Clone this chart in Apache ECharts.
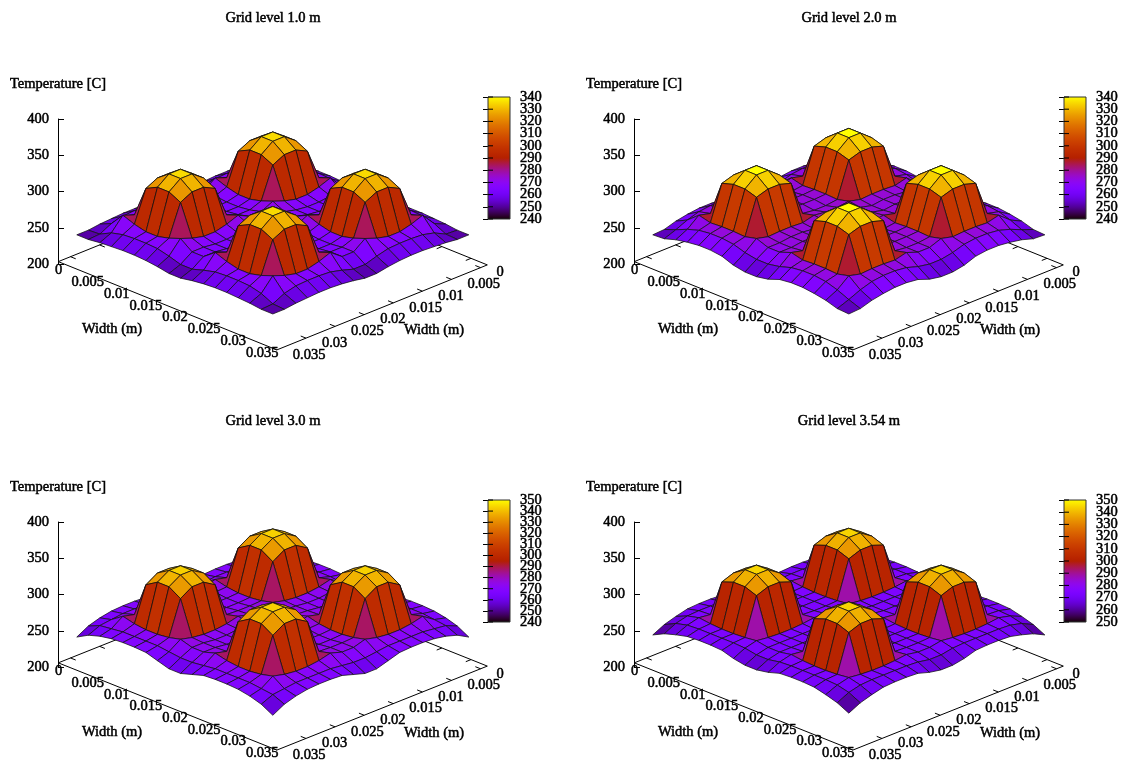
<!DOCTYPE html>
<html><head><meta charset="utf-8">
<style>html,body{margin:0;padding:0;background:#fff}#c{width:1123px;height:765px}</style>
<script src="https://cdn.jsdelivr.net/npm/echarts@6/dist/echarts.min.js"></script>
</head><body><div id="c"></div>
<script>
// ---- values ----
const panelTitles = ['Grid level 1.0 m','Grid level 2.0 m','Grid level 3.0 m','Grid level 3.54 m'];
const gridNodes = [0.00066,0.00264,0.00462,0.0066,0.00858,0.01056,0.01254,0.01452,0.0165,0.0185,0.02048,0.02246,0.02444,0.02642,0.0284,0.03038,0.03236,0.03434];
const widthTicks = [0,0.005,0.01,0.015,0.02,0.025,0.03,0.035];
const widthTickLabels = ['0','0.005','0.01','0.015','0.02','0.025','0.03','0.035'];
const tempRanges = [[240,340],[240,340],[240,350],[250,350]];
// one quadrant of each (mirror-symmetric) surface: temperature at nodes 0..8 from the outer corner to the centre
const quarterLevel1 = [
 [251,251,253,254,255,255,254,252,249],
 [251,252,260,264,265,265,264,260,255],
 [253,260,278,272,268,268,272,278,266],
 [254,264,272,315,323,323,315,272,266],
 [255,265,268,323,335,335,323,268,264],
 [255,265,268,323,335,335,323,268,264],
 [254,264,272,315,323,323,315,272,266],
 [252,260,278,272,268,268,272,278,270],
 [249,255,266,266,264,264,266,270,266]];
const quarterLevel2 = [
 [251,252,257,260,262,262,260,254,251],
 [252,258,265,270,272,272,270,265,262],
 [257,265,278,274,275,275,274,278,272],
 [260,270,274,322,327,327,322,274,272],
 [262,272,275,327,340,340,327,275,274],
 [262,272,275,327,340,340,327,275,274],
 [260,270,274,322,327,327,322,274,272],
 [254,265,278,274,275,275,274,278,276],
 [251,262,272,272,274,274,272,276,278]];
const quarterLevel3 = [
 [250,259,264,267,268,268,267,262,257],
 [259,266,268,270,270,270,270,268,266],
 [264,268,279,275,273,273,275,279,274],
 [267,270,275,323,333,333,323,275,274],
 [268,270,273,333,343,343,333,273,272],
 [268,270,273,333,343,343,333,273,272],
 [267,270,275,323,333,333,323,275,274],
 [262,268,279,275,273,273,275,279,275],
 [257,266,274,274,272,272,274,275,274]];
const quarterLevel4 = [
 [253,261,266,270,271,271,270,265,262],
 [261,269,273,274,274,274,274,273,270],
 [266,273,277,275,274,274,275,277,274],
 [270,274,275,327,333,333,327,275,274],
 [271,274,274,333,344,344,333,274,274],
 [271,274,274,333,344,344,333,274,274],
 [270,274,275,327,333,333,327,275,274],
 [265,273,277,275,274,274,275,277,276],
 [262,270,274,274,274,274,274,276,276]];
const quarters = [quarterLevel1,quarterLevel2,quarterLevel3,quarterLevel4];

// ---- layout / view ----
const font = 'Liberation Serif', fs = 14.5, ink = '#000', bold = 0.5;
const offX = [0,576,0,576], offY = [0,0,403,403];
const cx = 272.8, sy0 = 266, sPerM = 5820, dPerM = 2350, kPerDeg = 0.725;
const xLow = -0.00186, xHigh = 0.0357, yLow = -0.00116, yHigh = 0.035;
const mid = 0.0175, zBase = 200, surfaceDrop = 8;
// view transform: (width, width, temperature) -> plot coordinates on two hidden value axes
const proj = (x,y,z) => [x-y, (z-zBase) - (dPerM/kPerDeg)*((x-mid)+(y-mid))];
const plotBox = {l:40,r:510,t:110,b:365};

function palette(v,r){
  const t=Math.min(1,Math.max(0,(v-r[0])/(r[1]-r[0])));
  const R=Math.sqrt(t),G=t*t*t,B=Math.max(0,Math.sin(2*Math.PI*t));
  return 'rgb('+Math.round(R*255)+','+Math.round(G*255)+','+Math.round(B*255)+')';
}
const grids=[],xAxes=[],yAxes=[],series=[],titles=[];
const addTitle=(text,x,y)=>titles.push({text,left:x,top:y,textAlign:'center',textVerticalAlign:'middle',padding:0,
  textStyle:{fontFamily:font,fontSize:fs,fontWeight:'normal',color:ink,textBorderColor:ink,textBorderWidth:bold}});
const axisTxt={fontFamily:font,fontSize:fs,color:ink,textBorderColor:ink,textBorderWidth:bold,showMinLabel:true,showMaxLabel:true,hideOverlap:false};

panelTitles.forEach((title,p)=>{
  const ox=offX[p],oy=offY[p],Q=quarters[p],rng=tempRanges[p];
  const T=(a,b)=>Q[Math.min(a,17-a)][Math.min(b,17-b)];
  addTitle(title,273+ox,18+oy);
  addTitle('Temperature [C]',58+ox,84+oy);
  addTitle('Width (m)',112+ox,329+oy);
  addTitle('Width (m)',434+ox,330+oy);

  // plot grid with hidden axes
  const gi=grids.length;
  grids.push({left:plotBox.l+ox,top:plotBox.t+oy,width:plotBox.r-plotBox.l,height:plotBox.b-plotBox.t});
  xAxes.push({gridIndex:gi,type:'value',show:false,min:(plotBox.l-cx)/sPerM,max:(plotBox.r-cx)/sPerM});
  yAxes.push({gridIndex:gi,type:'value',show:false,min:(sy0-plotBox.b)/kPerDeg,max:(sy0-plotBox.t)/kPerDeg});

  // base frame and ticks
  const segs=[];
  const c1=[xLow,yHigh],c2=[xHigh,yHigh],c3=[xHigh,yLow],c4=[xLow,yLow];
  segs.push([c1,c2],[c3,c2],[c1,c4],[c3,c4]);
  const tl=0.0009, mirror=0.0021;
  widthTicks.forEach(t=>{
    segs.push([[xHigh,t],[xHigh-tl,t]]);
    segs.push([[xLow,t-mirror],[xLow+tl,t-mirror]]);
    segs.push([[t-mirror,yLow],[t-mirror,yLow+tl]]);
  });
  series.push({type:'custom',coordinateSystem:'cartesian2d',xAxisIndex:gi,yAxisIndex:gi,silent:true,z:1,
    data:segs.map((s,i)=>[i,0]),
    renderItem:(par,api)=>{
      const s=segs[api.value(0)];
      const A=api.coord(proj(s[0][0],s[0][1],zBase)),B=api.coord(proj(s[1][0],s[1][1],zBase));
      return {type:'line',shape:{x1:A[0],y1:A[1],x2:B[0],y2:B[1]},style:{stroke:'#000',lineWidth:1}};
    }});

  // surface cells, painted back to front
  const cells=[];
  for(let sum=0;sum<=32;sum++)for(let a=0;a<17;a++){const b=sum-a;if(b>=0&&b<17)cells.push([a,b]);}
  series.push({type:'custom',coordinateSystem:'cartesian2d',xAxisIndex:gi,yAxisIndex:gi,silent:true,z:2,
    data:cells,
    renderItem:(par,api)=>{
      const a=api.value(0),b=api.value(1);
      const corners=[[a,b],[a+1,b],[a+1,b+1],[a,b+1]];
      let m=0;const pts=corners.map(n=>{const z=T(n[0],n[1]);m+=z/4;return api.coord(proj(gridNodes[n[0]],gridNodes[n[1]],z-surfaceDrop));});
      return {type:'polygon',shape:{points:pts},style:{fill:palette(m,rng),stroke:'#111',lineWidth:0.75,lineJoin:'round'}};
    }});

  // width tick labels
  const labs=[];
  widthTicks.forEach((t,i)=>{labs.push({x:t,y:yHigh,dx:-10.5,dy:4.5,al:'center',s:widthTickLabels[i]});
                             labs.push({x:xHigh,y:t,dx:16,dy:5,al:'left',s:widthTickLabels[i]});});
  series.push({type:'custom',coordinateSystem:'cartesian2d',xAxisIndex:gi,yAxisIndex:gi,silent:true,z:3,
    data:labs.map((l,i)=>[i,0]),
    renderItem:(par,api)=>{
      const l=labs[api.value(0)],A=api.coord(proj(l.x,l.y,zBase));
      return {type:'text',x:A[0]+l.dx,y:A[1]+l.dy,style:{text:l.s,fill:ink,font:fs+'px "'+font+'"',textAlign:l.al,textVerticalAlign:'middle',stroke:ink,lineWidth:bold}};
    }});

  // vertical temperature axis
  const gz=grids.length;
  grids.push({left:58+ox,top:119+oy,width:10,height:145});
  xAxes.push({gridIndex:gz,type:'value',show:false,min:0,max:1});
  yAxes.push({gridIndex:gz,type:'value',min:200,max:400,interval:50,position:'left',
    axisLine:{show:true,onZero:false,lineStyle:{color:'#000',width:1}},
    axisTick:{show:true,inside:true,length:6,lineStyle:{color:'#000',width:1}},
    splitLine:{show:false},axisLabel:Object.assign({margin:9,align:'right'},axisTxt)});

  // colour bar: the labels overlap vertically, so they are drawn by the series (the axis would drop some)
  const gb=grids.length;
  const barTop=97+oy,barH=122;
  grids.push({left:488+ox,top:barTop,width:22,height:barH});
  xAxes.push({gridIndex:gb,type:'value',show:false,min:0,max:1});
  yAxes.push({gridIndex:gb,type:'value',min:rng[0],max:rng[1],interval:10,position:'right',
    axisLine:{show:false},
    axisTick:{show:true,inside:true,length:5,lineStyle:{color:'#000',width:1}},
    splitLine:{show:false},axisLabel:{show:false}});
  const stops=[];for(let i=0;i<=64;i++)stops.push({offset:i/64,color:palette(rng[1]-(rng[1]-rng[0])*i/64,rng)});
  series.push({type:'custom',coordinateSystem:'cartesian2d',xAxisIndex:gb,yAxisIndex:gb,silent:true,z:1,
    data:[[0,rng[0]]],
    renderItem:(par,api)=>{
      const A=api.coord([0,rng[1]]),B=api.coord([1,rng[0]]);
      return {type:'rect',shape:{x:A[0],y:A[1],width:B[0]-A[0],height:B[1]-A[1]},
        style:{fill:new echarts.graphic.LinearGradient(0,0,0,1,stops),stroke:'#333',lineWidth:1}};
    }});
  const lefts=[];for(let v=rng[0];v<=rng[1];v+=10)lefts.push([0,v]);
  series.push({type:'custom',coordinateSystem:'cartesian2d',xAxisIndex:gb,yAxisIndex:gb,silent:true,z:2,
    data:lefts,
    renderItem:(par,api)=>{
      const v=api.value(1),A=api.coord([0,v]),R=api.coord([1,v]);
      return {type:'group',children:[
        {type:'line',shape:{x1:A[0],y1:A[1],x2:A[0]+5,y2:A[1]},style:{stroke:'#000',lineWidth:1}},
        {type:'text',x:R[0]+10,y:R[1],style:{text:String(v),fill:ink,font:fs+'px "'+font+'"',textAlign:'left',textVerticalAlign:'middle',stroke:ink,lineWidth:bold}}
      ]};
    }});
});

const chart=echarts.init(document.getElementById('c'),null,{renderer:'canvas'});
chart.setOption({animation:false,backgroundColor:'#fff',title:titles,tooltip:{show:false},grid:grids,xAxis:xAxes,yAxis:yAxes,series});
</script></body></html>
